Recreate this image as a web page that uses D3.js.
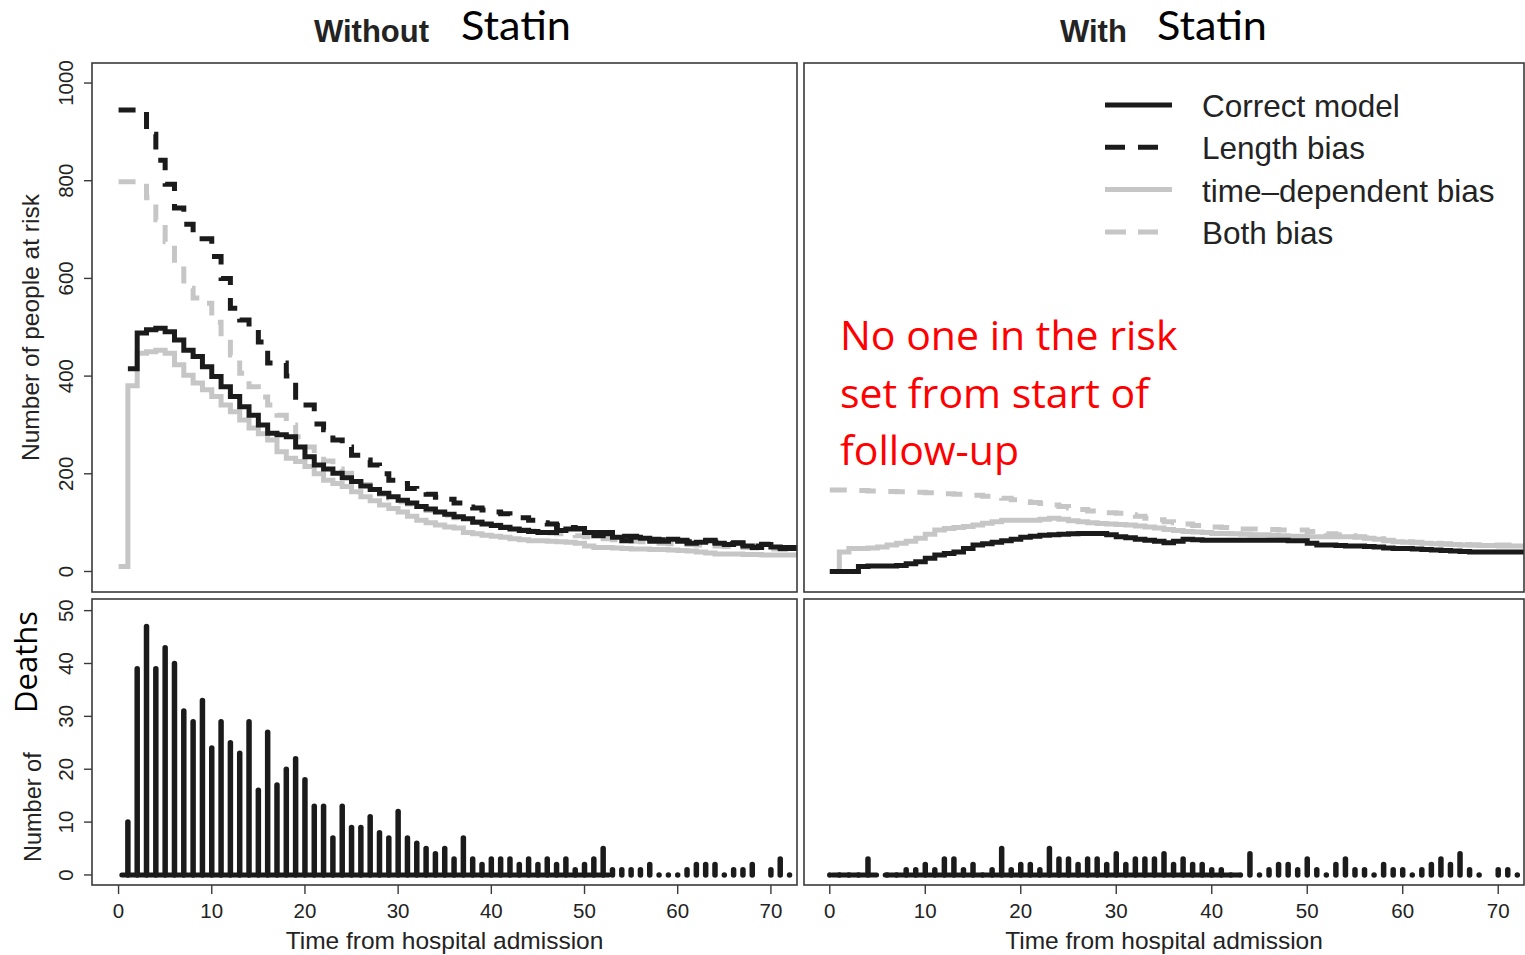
<!DOCTYPE html>
<html>
<head>
<meta charset="utf-8">
<title>Number at risk and deaths, without and with statin</title>
<script src="https://cdn.jsdelivr.net/npm/d3@7/dist/d3.min.js"></script>
<style>
  html, body { margin: 0; padding: 0; background: #ffffff; }
  svg { display: block; }
</style>
</head>
<body>
<svg id="chart" width="1525" height="955"></svg>
<script>
// ---------------- data ----------------
// follow-up day (time from hospital admission)
const days = d3.range(0, 73);

const xTicks = [0, 10, 20, 30, 40, 50, 60, 70];
const riskTicks = [0, 200, 400, 600, 800, 1000];
const deathTicks = [0, 10, 20, 30, 40, 50];

const seriesLabels = ["Correct model", "Length bias", "time\u2013dependent bias", "Both bias"];

// Without statin: number of people at risk, one value per day
const withoutCorrect = [null,415,488,495,498,491,474,453,440,419,399,378,358,337,320,300,283,280,276,255,235,218,210,201,192,184,175,168,160,153,146,140,133,128,122,117,112,108,101,97,94,90,87,84,82,80,80,84,87,87,80,73,77,70,63,70,68,62,62,66,62,58,60,63,58,55,58,52,49,55,50,47,47];
const withoutLength = [945,945,945,895,842,793,744,711,681,681,645,600,539,515,495,470,427,427,400,341,341,302,290,269,255,238,228,218,200,187,180,170,163,158,152,148,140,132,130,126,122,118,114,110,105,100,97,94,90,88,85,80,80,75,72,72,70,66,65,67,64,61,62,64,60,57,59,55,52,56,52,49,49];
const withoutTimeDep = [10,380,447,450,453,447,423,402,386,372,358,341,327,310,294,282,269,245,232,225,215,200,187,180,174,163,153,145,136,129,122,113,105,100,95,91,89,80,77,74,72,70,67,65,63,63,62,61,60,58,52,49,49,48,47,46,46,45,45,44,43,42,40,38,36,36,36,35,35,34,34,34,34];
const withoutBoth = [798,798,798,765,720,675,625,580,560,549,510,480,443,406,378,357,341,320,300,276,255,240,226,210,201,190,178,167,158,150,143,138,132,125,120,115,110,106,102,98,95,92,89,86,83,81,79,77,75,73,71,69,67,65,64,62,61,60,58,57,56,55,54,53,52,51,50,49,48,47,46,45,44];

// With statin: number of people at risk, one value per day
const withCorrect = [0,0,0,10,11,11,11,12,16,20,27,34,37,40,47,54,57,60,63,66,70,72,74,75,76,77,78,78,78,75,71,69,66,64,62,59,62,66,65,64,64,64,64,64,64,64,64,64,63,63,58,54,54,53,52,52,51,50,48,47,47,46,45,44,43,42,41,40,40,40,40,40,40];
const withTimeDep = [0,40,47,47,48,50,54,58,62,68,76,85,88,90,92,95,99,102,105,105,105,105,107,109,107,104,102,100,98,97,96,95,93,91,89,86,84,82,81,80,78,78,77,76,75,75,74,73,72,72,71,71,71,71,71,70,68,66,63,61,60,59,58,57,56,55,54,54,53,53,52,52,52];
const withBoth = [167,167,167,166,165,165,164,163,163,162,161,160,159,158,157,156,154,152,150,147,143,141,139,136,133,130,127,124,122,120,119,116,113,109,106,102,100,97,94,93,91,90,88,87,87,86,86,85,85,85,82,80,77,75,73,71,69,67,64,62,61,60,59,58,57,56,55,54,54,54,54,54,54];

// Deaths per day (null = no observation that day)
const withoutDeaths = [null,10,39,47,39,43,40,31,29,33,24,29,25,23,29,16,27,17,20,22,18,13,13,7,13,9,9,11,8,7,12,7,6,5,4,5,3,7,3,2,3,3,3,2,3,2,3,2,3,1,2,3,5,1,1,1,1,2,0,0,0,1,2,2,2,0,1,1,2,null,1,3,0];
const withDeaths = [0,0,0,0,3,null,0,0,1,1,2,1,3,3,1,2,0,1,5,1,2,2,1,5,3,3,2,3,3,2,4,2,3,3,3,4,2,3,2,2,1,1,0,0,4,0,1,2,2,1,3,1,0,2,3,1,1,0,2,1,1,0,1,2,3,2,4,1,0,null,1,1,0];

// Follow-up periods under observation (zero-death stretches along the baseline)
const withoutObserved = [[0.35, 52.6]];
const withObserved = [[0.3, 4.9], [5.8, 42.8]];

// ---------------- styling ----------------
const BLACK = "#1b1b1b";
const GREY = "#c6c6c6";
const TEXT = "#232323";
const FRAME = "#3a3a3a";
const DASH = "17,13";
const LINE_W = 5;
const SANS = "'Liberation Sans', Arial, Helvetica, sans-serif";
const CAL = "'Open Sans', 'Noto Sans', sans-serif";
const CAL2 = "Lato, 'Open Sans', sans-serif";

const svg = d3.select("#chart");

// panel layout
const colL = { x0: 92, x1: 797 };
const colR = { x0: 804, x1: 1524 };
const rowTop = { y0: 63, y1: 592 };
const rowBot = { y0: 599, y1: 885 };

const xLeft = d3.scaleLinear().domain([-2.85, 72.8]).range([colL.x0, colL.x1]);
const xRight = d3.scaleLinear().domain([-2.7, 72.7]).range([colR.x0, colR.x1]);
const yRisk = d3.scaleLinear().domain([-42, 1041]).range([rowTop.y1, rowTop.y0]);
const yDeath = d3.scaleLinear().domain([-1.9, 52.2]).range([rowBot.y1, rowBot.y0]);

const defs = svg.append("defs");
let clipId = 0;
function clip(col, row) {
  const id = "clip" + (clipId++);
  defs.append("clipPath").attr("id", id)
    .append("rect")
    .attr("x", col.x0).attr("y", row.y0)
    .attr("width", col.x1 - col.x0).attr("height", row.y1 - row.y0);
  return "url(#" + id + ")";
}

// step curves for number at risk
function riskPanel(col, x, series) {
  const g = svg.append("g").attr("clip-path", clip(col, rowTop));
  const end = x.domain()[1];
  series.forEach(s => {
    const pts = days.map((t, i) => ({ t: t, v: s.values[i] }));
    const last = pts[pts.length - 1];
    pts.push({ t: end, v: last.v });
    const line = d3.line()
      .defined(d => d.v != null)
      .x(d => x(d.t))
      .y(d => yRisk(d.v))
      .curve(d3.curveStepAfter);
    g.append("path")
      .attr("d", line(pts))
      .attr("fill", "none")
      .attr("stroke", s.color)
      .attr("stroke-width", LINE_W)
      .attr("stroke-linejoin", "miter")
      .attr("stroke-dasharray", s.dash || null);
  });
}

// daily deaths as vertical spikes over a baseline of observed days
function deathPanel(col, x, values, observed) {
  const g = svg.append("g").attr("clip-path", clip(col, rowBot));
  g.selectAll("line.base").data(observed).join("line")
    .attr("class", "base")
    .attr("x1", d => x(d[0])).attr("x2", d => x(d[1]))
    .attr("y1", yDeath(0)).attr("y2", yDeath(0))
    .attr("stroke", BLACK).attr("stroke-width", 5)
    .attr("stroke-linecap", "round");
  const pts = days.map((t, i) => ({ t: t, v: values[i] })).filter(d => d.v != null);
  g.selectAll("path.spike").data(pts).join("path")
    .attr("class", "spike")
    .attr("d", d => `M${x(d.t)},${yDeath(0)}L${x(d.t)},${yDeath(d.v)}`)
    .attr("stroke", BLACK).attr("stroke-width", 5.5)
    .attr("stroke-linecap", "round")
    .attr("fill", "none");
}

function frame(col, row) {
  svg.append("rect")
    .attr("x", col.x0).attr("y", row.y0)
    .attr("width", col.x1 - col.x0).attr("height", row.y1 - row.y0)
    .attr("fill", "none").attr("stroke", FRAME).attr("stroke-width", 1.6);
}

function xAxis(x) {
  const g = svg.append("g");
  g.selectAll("line").data(xTicks).join("line")
    .attr("x1", d => x(d)).attr("x2", d => x(d))
    .attr("y1", rowBot.y1).attr("y2", rowBot.y1 + 9)
    .attr("stroke", FRAME).attr("stroke-width", 1.4);
  g.selectAll("text").data(xTicks).join("text")
    .attr("x", d => x(d)).attr("y", 918)
    .attr("text-anchor", "middle")
    .attr("font-family", SANS).attr("font-size", 20.5).attr("fill", TEXT)
    .text(d => d);
  svg.append("text")
    .attr("x", x.range()[0] + (x.range()[1] - x.range()[0]) / 2).attr("y", 949)
    .attr("text-anchor", "middle")
    .attr("font-family", SANS).attr("font-size", 24.5).attr("fill", TEXT)
    .text("Time from hospital admission");
}

function yAxis(y, ticks) {
  const g = svg.append("g");
  g.selectAll("line").data(ticks).join("line")
    .attr("x1", colL.x0 - 8).attr("x2", colL.x0)
    .attr("y1", d => y(d)).attr("y2", d => y(d))
    .attr("stroke", FRAME).attr("stroke-width", 1.4);
  g.selectAll("text").data(ticks).join("text")
    .attr("transform", d => `translate(73,${y(d)}) rotate(-90)`)
    .attr("text-anchor", "middle")
    .attr("font-family", SANS).attr("font-size", 20.5).attr("fill", TEXT)
    .text(d => d);
}

// ---------------- panels ----------------
riskPanel(colL, xLeft, [
  { values: withoutTimeDep, color: GREY },
  { values: withoutBoth, color: GREY, dash: DASH },
  { values: withoutCorrect, color: BLACK },
  { values: withoutLength, color: BLACK, dash: DASH }
]);
riskPanel(colR, xRight, [
  { values: withTimeDep, color: GREY },
  { values: withBoth, color: GREY, dash: DASH },
  { values: withCorrect, color: BLACK }
]);
deathPanel(colL, xLeft, withoutDeaths, withoutObserved);
deathPanel(colR, xRight, withDeaths, withObserved);

frame(colL, rowTop);
frame(colR, rowTop);
frame(colL, rowBot);
frame(colR, rowBot);

xAxis(xLeft);
xAxis(xRight);
yAxis(yRisk, riskTicks);
yAxis(yDeath, deathTicks);

// y-axis titles
svg.append("text")
  .attr("transform", `translate(39,${(rowTop.y0 + rowTop.y1) / 2}) rotate(-90)`)
  .attr("text-anchor", "middle")
  .attr("font-family", SANS).attr("font-size", 24.5).attr("fill", TEXT)
  .text("Number of people at risk");
svg.append("text")
  .attr("transform", "translate(41,862) rotate(-90)")
  .attr("text-anchor", "start")
  .attr("font-family", SANS).attr("font-size", 23.5).attr("fill", TEXT)
  .text("Number of");
svg.append("text")
  .attr("transform", "translate(37,713) rotate(-90)")
  .attr("text-anchor", "start")
  .attr("font-family", CAL).attr("font-size", 31).attr("fill", "#000")
  .text("Deaths");

// column titles
function columnTitle(boldWord, boldX, statinX) {
  svg.append("text")
    .attr("x", boldX).attr("y", 42)
    .attr("font-family", SANS).attr("font-weight", "bold")
    .attr("font-size", 31).attr("fill", TEXT)
    .text(boldWord);
  svg.append("text")
    .attr("x", statinX).attr("y", 40)
    .attr("font-family", CAL2).attr("font-size", 40)
    .attr("textLength", 110).attr("lengthAdjust", "spacingAndGlyphs")
    .attr("fill", "#000")
    .text("Statin");
}
columnTitle("Without", 314, 461);
columnTitle("With", 1060, 1157);

// legend
const legendRows = [
  { color: BLACK, dash: null, end: 1172 },
  { color: BLACK, dash: "20,13", end: 1158 },
  { color: GREY, dash: null, end: 1172 },
  { color: GREY, dash: "21,12", end: 1158 }
];
const legend = svg.append("g");
legendRows.forEach((r, i) => {
  const ly = 105 + i * 42.3;
  legend.append("line")
    .attr("x1", 1105).attr("x2", r.end)
    .attr("y1", ly).attr("y2", ly)
    .attr("stroke", r.color).attr("stroke-width", 5)
    .attr("stroke-dasharray", r.dash);
  legend.append("text")
    .attr("x", 1202).attr("y", ly + 12)
    .attr("font-family", SANS).attr("font-size", 31.5).attr("fill", TEXT)
    .text(seriesLabels[i]);
});

// annotation
const note = ["No one in the risk", "set from start of", "follow-up"];
svg.append("g").selectAll("text").data(note).join("text")
  .attr("x", 840).attr("y", (d, i) => 350 + i * 57.5)
  .attr("font-family", CAL).attr("font-size", 41).attr("fill", "#ff0000")
  .text(d => d);
</script>
</body>
</html>
